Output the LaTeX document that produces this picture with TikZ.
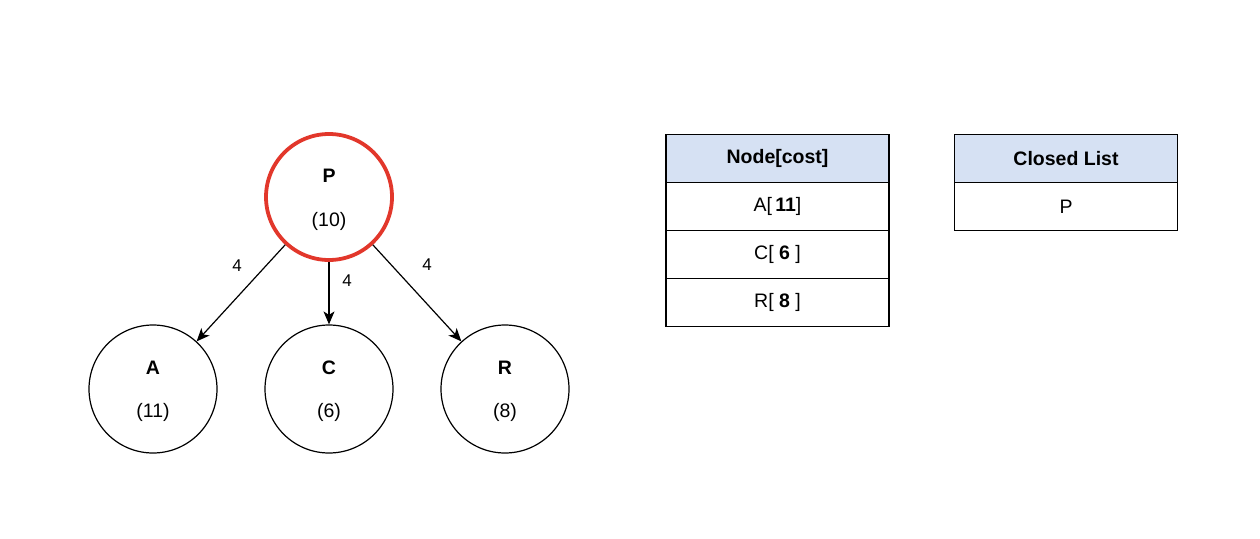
\documentclass[tikz,border=0pt]{standalone}
\usepackage{fontspec}
\setmainfont{Liberation Sans}
\usetikzlibrary{arrows.meta}
\definecolor{hdr}{HTML}{D6E1F3}
\definecolor{redc}{HTML}{E2372B}
\begin{document}
\begin{tikzpicture}[x=1pt,y=-1pt,
  circ/.style={circle,draw=black,line width=1.2pt,minimum size=128pt,inner sep=0pt},
  redcirc/.style={circle,draw=redc,line width=3.8pt,minimum size=126pt,inner sep=0pt},
  cell/.style={draw=black,line width=1.2pt,minimum width=223pt,minimum height=48pt,inner sep=0pt,font=\fontsize{19.5}{23}\selectfont},
  hcell/.style={cell,fill=hdr,font=\fontsize{19.5}{23}\selectfont\bfseries},
  lbl/.style={font=\fontsize{19.5}{23}\selectfont},
  blbl/.style={font=\fontsize{19.5}{23}\selectfont\bfseries},
  edge/.style={draw=black,line width=1.2pt,-{Stealth[length=13pt,width=11pt,inset=3.5pt]}},
  wlbl/.style={font=\fontsize{17}{20}\selectfont}
]
\useasboundingbox (0,0) rectangle (1260,538);
% circles
\node[redcirc] (P) at (329,197) {};
\node[circ] (A) at (153,389) {};
\node[circ] (C) at (329,389) {};
\node[circ] (R) at (505,389) {};
% labels in circles
\node[blbl] (Pt) at (329,176) {P};
\node[lbl] (Pv) at (329,221) {(10)};
\node[blbl] (At) at (153,368) {A};
\node[lbl] (Av) at (153,412) {(11)};
\node[blbl] (Ct) at (329,368) {C};
\node[lbl] (Cv) at (329,412) {(6)};
\node[blbl] (Rt) at (505,368) {R};
\node[lbl] (Rv) at (505,412) {(8)};
% edges
\draw[edge] (P) -- (A);
\draw[edge] (P) -- (C);
\draw[edge] (P) -- (R);
\node[wlbl] (w1) at (237,266) {4};
\node[wlbl] (w2) at (347,281) {4};
\node[wlbl] (w3) at (427,265) {4};
% table 1
\node[hcell] (h1) at (777.5,158.5) {Node[cost]};
\node[cell] (r1) at (777.5,206.5) {A[\,\textbf{11}]};
\node[cell] (r2) at (777.5,254.5) {C[ \textbf{6} ]};
\node[cell] (r3) at (777.5,302.5) {R[ \textbf{8} ]};
% table 2
\node[hcell] (h2) at (1066,158.5) {Closed List};
\node[cell] (s1) at (1066,206.5) {P};
\end{tikzpicture}
\end{document}
